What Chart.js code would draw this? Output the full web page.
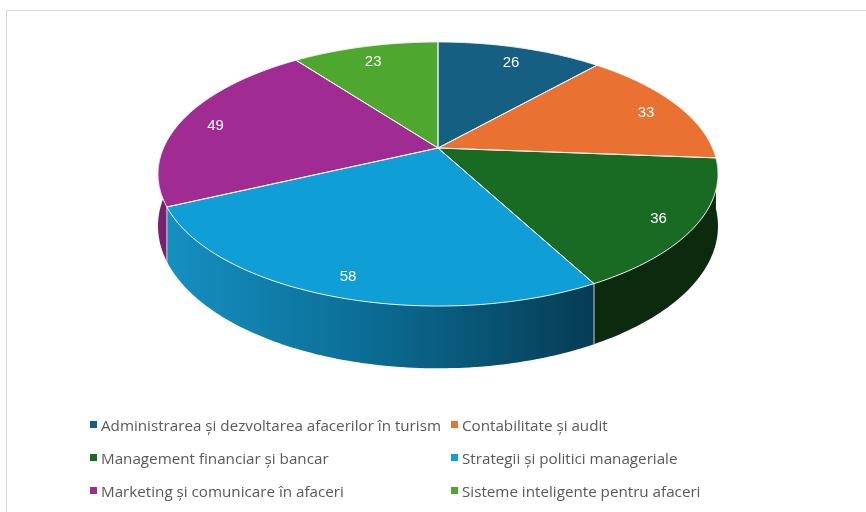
<!DOCTYPE html>
<html>
<head>
<meta charset="utf-8">
<script src="https://cdn.jsdelivr.net/npm/chart.js@4/dist/chart.umd.min.js"></script>
<style>
  body { margin: 0; background: #fff; }
  #wrap { position: relative; width: 866px; height: 512px; overflow: hidden; }
  #frame { position: absolute; left: 6px; top: 10px; width: 900px; height: 600px; border: 1px solid #d9d9d9; }
  #pie { position: absolute; left: 0; top: 0; }
  .item { position: absolute; white-space: nowrap; font-family: "Open Sans", sans-serif; font-size: 15.2px; color: #595959; line-height: 18px; }
  .sw { display: inline-block; width: 7px; height: 7px; margin-right: 4px; position: relative; top: -2px; vertical-align: middle; }
</style>
</head>
<body>
<div id="wrap">
  <div id="frame"></div>
  <canvas id="pie" width="866" height="512"></canvas>
  <div id="legend"></div>
</div>
<script>
// ---------------------------------------------------------------------------
// data
// ---------------------------------------------------------------------------
const categories = [
  'Administrarea și dezvoltarea afacerilor în turism',
  'Contabilitate și audit',
  'Management financiar și bancar',
  'Strategii și politici manageriale',
  'Marketing și comunicare în afaceri',
  'Sisteme inteligente pentru afaceri'
];
const counts = [26, 33, 36, 58, 49, 23];
const topColors = ['#156082', '#E97132', '#196B24', '#0F9ED5', '#A02B93', '#4EA72E'];
const sideColors = ['#0c3a50', '#a04b1e', '#0b2a0e', '#0a6a92', '#7a2070', '#2f6a1b'];

// ---------------------------------------------------------------------------
// 3D look: tilt the flat pie with a small perspective and add the side wall
// ---------------------------------------------------------------------------
const view = { cx: 438, cy: 148, ax: 274.5, by: 126.9, tilt: 0.197, depth: 50 };

// angle = Chart.js arc angle (0 = right, clockwise), f = fraction of radius
function project(angle, f) {
  const u = Math.cos(angle) * f;
  const v = Math.sin(angle) * f;
  const w = 1 - view.tilt * v;
  return { x: view.cx + view.ax * u / w, y: view.cy + view.by * v / w, w: w };
}

function rimPoints(a0, a1) {
  const steps = Math.max(2, Math.ceil((a1 - a0) * 60));
  const pts = [];
  for (let s = 0; s <= steps; s++) pts.push(project(a0 + (a1 - a0) * s / steps, 1));
  return pts;
}

function drawWalls(ctx, arcs) {
  arcs.forEach((arc, i) => {
    const a0 = Math.max(arc.startAngle, 0);
    const a1 = Math.min(arc.endAngle, Math.PI);
    if (a1 <= a0) return;
    const pts = rimPoints(a0, a1);
    ctx.beginPath();
    pts.forEach((p, k) => k === 0 ? ctx.moveTo(p.x, p.y) : ctx.lineTo(p.x, p.y));
    for (let k = pts.length - 1; k >= 0; k--) {
      const p = pts[k];
      ctx.lineTo(p.x, p.y + view.depth / p.w);
    }
    ctx.closePath();
    if (i === 3) {
      const g = ctx.createLinearGradient(165, 0, 592, 0);
      g.addColorStop(0, '#1690c2');
      g.addColorStop(0.45, '#0b6f97');
      g.addColorStop(1, '#063c55');
      ctx.fillStyle = g;
    } else {
      ctx.fillStyle = sideColors[i];
    }
    ctx.fill();
  });
  // seams between wall pieces
  ctx.strokeStyle = 'rgba(225,225,225,0.9)';
  ctx.lineWidth = 1;
  arcs.forEach(arc => {
    const a = arc.endAngle;
    if (a > 0.2 && a < Math.PI - 0.2) {
      const p = project(a, 1);
      ctx.beginPath();
      ctx.moveTo(p.x, p.y);
      ctx.lineTo(p.x, p.y + view.depth / p.w);
      ctx.stroke();
    }
  });
}

function drawTop(ctx, arcs) {
  arcs.forEach((arc, i) => {
    const pts = rimPoints(arc.startAngle, arc.endAngle);
    ctx.beginPath();
    ctx.moveTo(view.cx, view.cy);
    pts.forEach(p => ctx.lineTo(p.x, p.y));
    ctx.closePath();
    ctx.fillStyle = topColors[i];
    ctx.fill();
  });
  ctx.strokeStyle = 'rgba(240,240,240,0.95)';
  ctx.lineWidth = 1;
  ctx.lineJoin = 'round';
  arcs.forEach(arc => {
    const pts = rimPoints(arc.startAngle, arc.endAngle);
    ctx.beginPath();
    ctx.moveTo(view.cx, view.cy);
    pts.forEach(p => ctx.lineTo(p.x, p.y));
    ctx.closePath();
    ctx.stroke();
  });
}

const pie3d = {
  id: 'pie3d',
  beforeDatasetsDraw(chart) {
    const ctx = chart.ctx;
    const arcs = chart.getDatasetMeta(0).data;
    ctx.save();
    drawWalls(ctx, arcs);
    drawTop(ctx, arcs);
    ctx.restore();
    return false;
  },
  afterDraw(chart) {
    const ctx = chart.ctx;
    const arcs = chart.getDatasetMeta(0).data;
    ctx.save();
    ctx.fillStyle = '#ffffff';
    ctx.font = '15px "Liberation Sans", Arial, sans-serif';
    ctx.textAlign = 'center';
    ctx.textBaseline = 'middle';
    arcs.forEach((arc, i) => {
      const p = project((arc.startAngle + arc.endAngle) / 2, 0.87);
      ctx.fillText(String(counts[i]), p.x, p.y + 4);
    });
    ctx.restore();
  }
};

new Chart(document.getElementById('pie'), {
  type: 'pie',
  data: {
    labels: categories,
    datasets: [{
      data: counts,
      backgroundColor: topColors,
      borderWidth: 0
    }]
  },
  options: {
    responsive: false,
    animation: false,
    plugins: {
      legend: { display: false },
      tooltip: { enabled: false }
    }
  },
  plugins: [pie3d]
});

// ---------------------------------------------------------------------------
// legend (two columns, three rows)
// ---------------------------------------------------------------------------
const legendCols = [90, 451];
const legendRows = [425, 458, 491];
const legend = document.getElementById('legend');
categories.forEach((name, i) => {
  const el = document.createElement('div');
  el.className = 'item';
  el.style.left = legendCols[i % 2] + 'px';
  el.style.top = (legendRows[Math.floor(i / 2)] - 9) + 'px';
  el.innerHTML = '<span class="sw" style="background:' + topColors[i] + '"></span>' + name;
  legend.appendChild(el);
});
</script>
</body>
</html>
